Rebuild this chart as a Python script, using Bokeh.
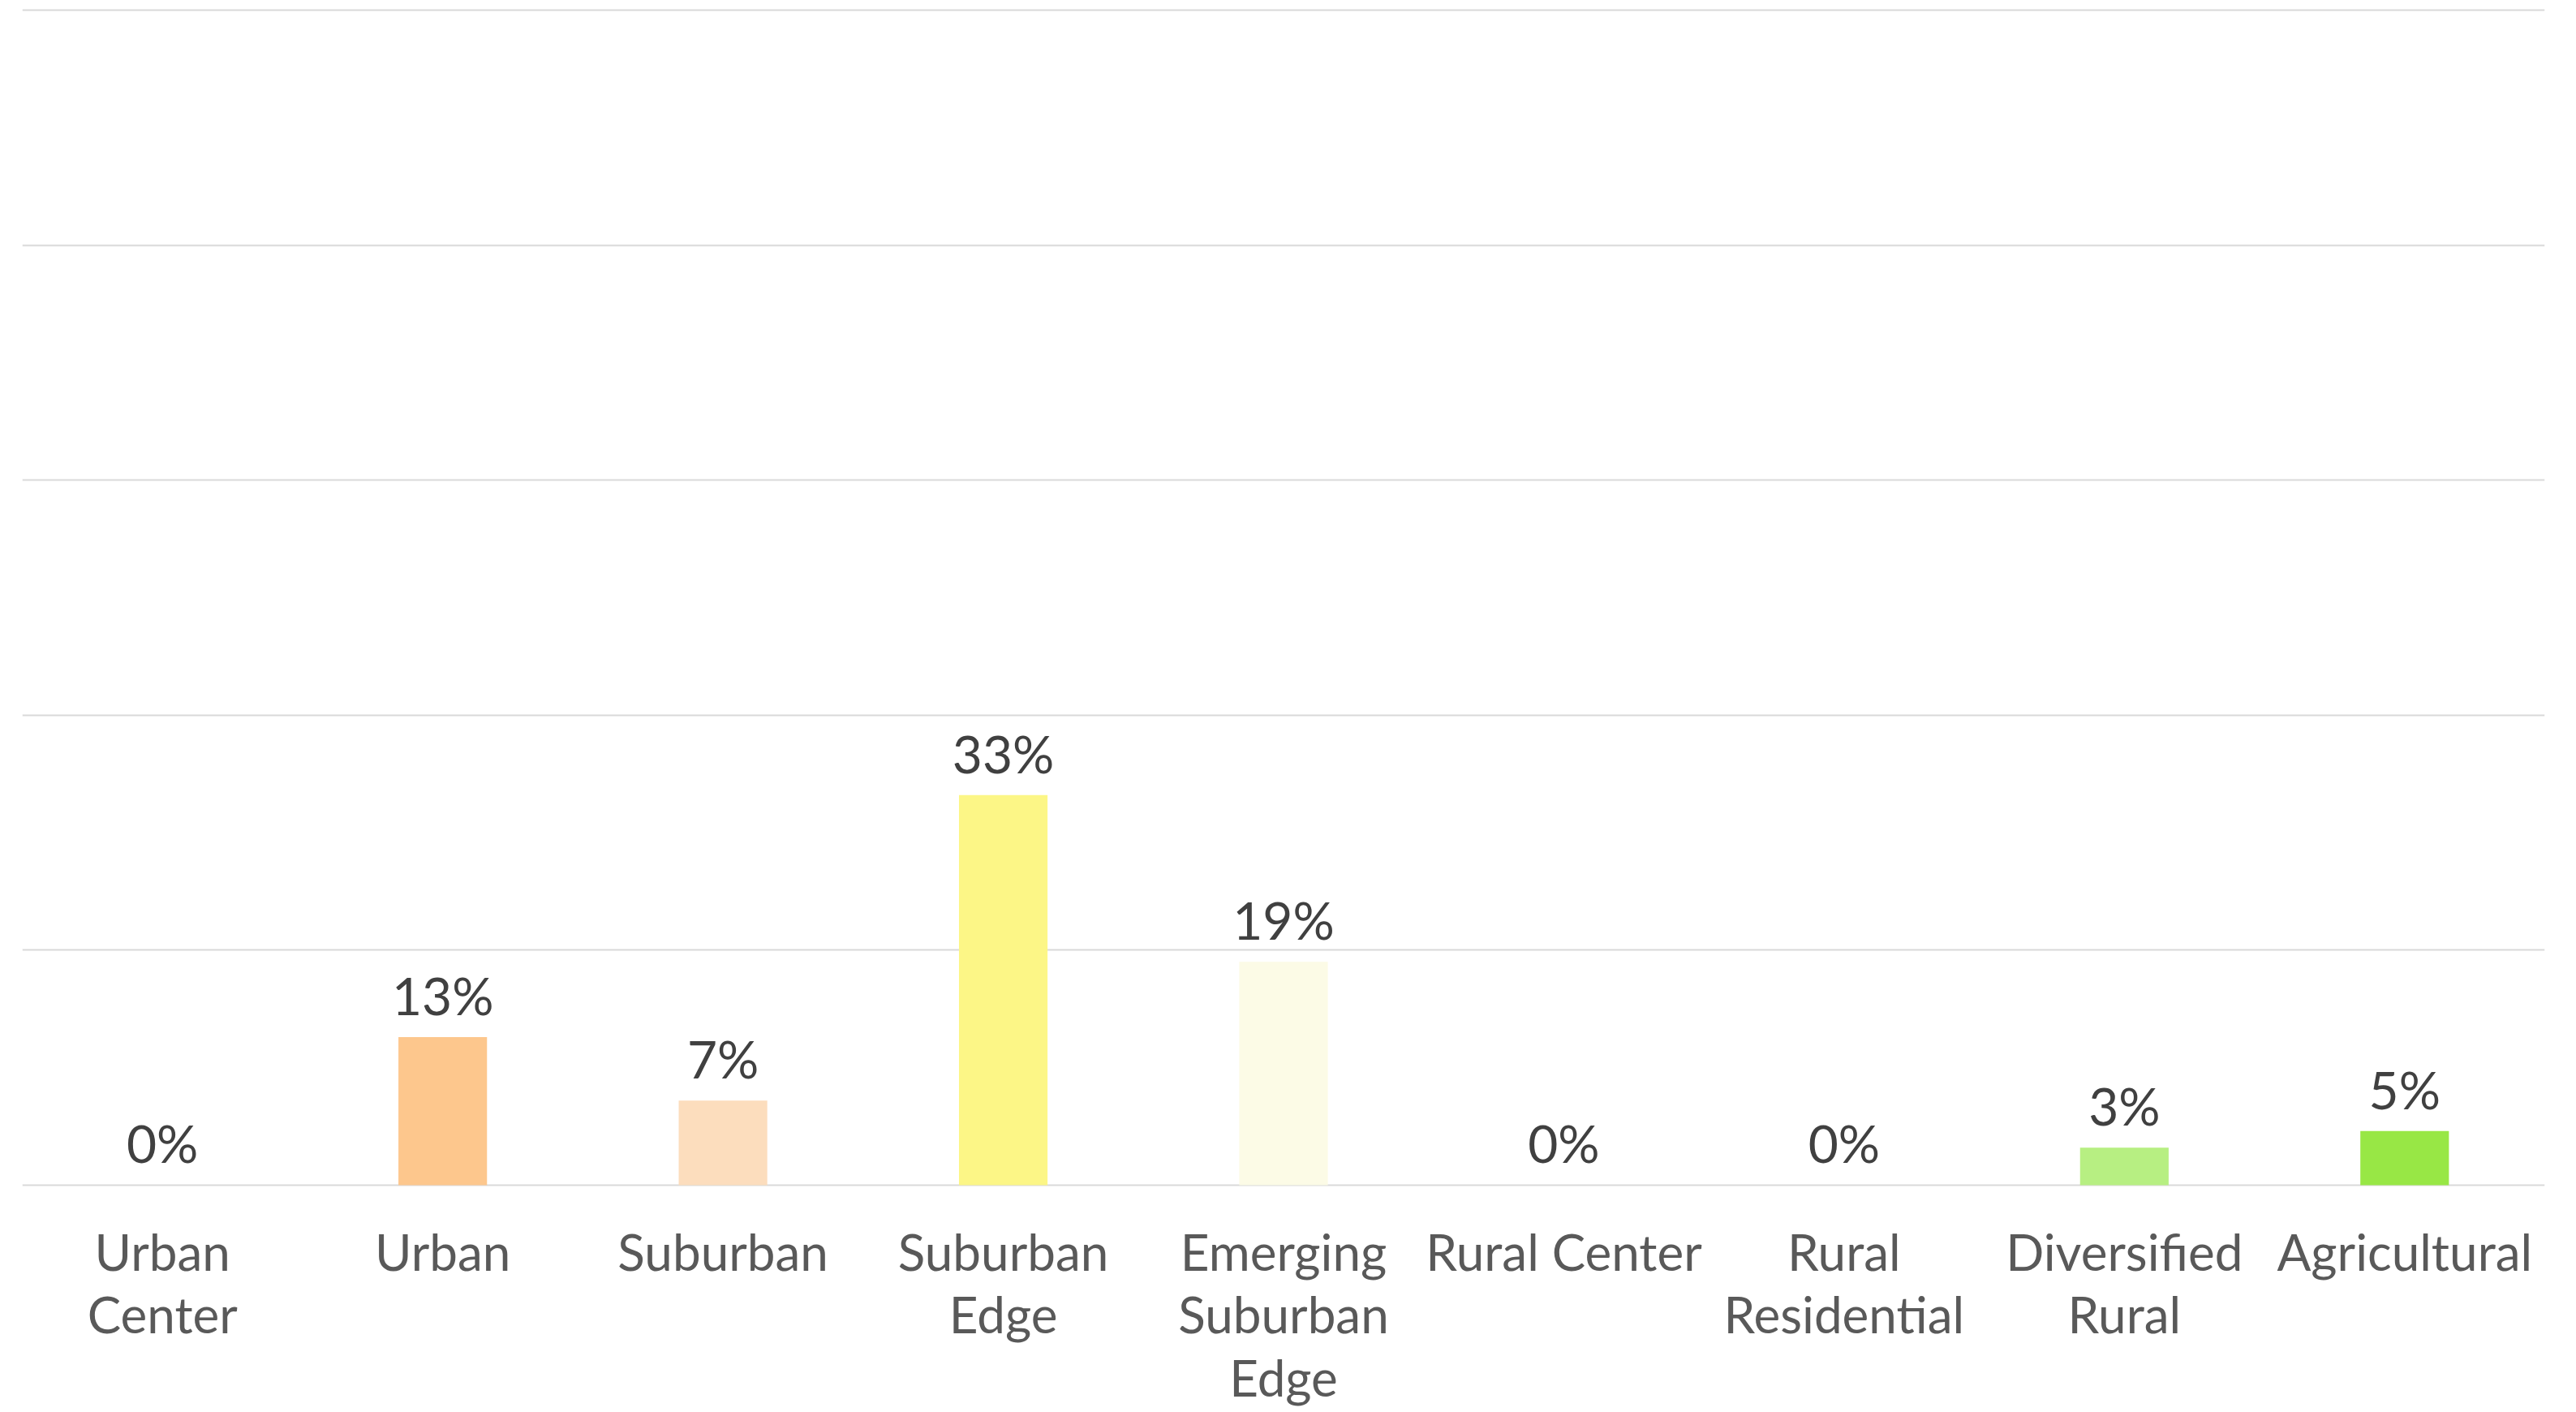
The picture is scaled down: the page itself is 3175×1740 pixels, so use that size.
from bokeh.plotting import figure
from bokeh.models import ColumnDataSource, LabelSet, FactorRange, FixedTicker
from bokeh.core.properties import value
from bokeh.embed import file_html
from bokeh.resources import INLINE

categories = ["Urban\nCenter", "Urban", "Suburban", "Suburban\nEdge",
              "Emerging\nSuburban\nEdge", "Rural Center", "Rural\nResidential",
              "Diversified\nRural", "Agricultural"]
values = [0, 12.6, 7.2, 33.2, 19.0, 0, 0, 3.2, 4.6]
value_labels = ["0%", "13%", "7%", "33%", "19%", "0%", "0%", "3%", "5%"]
colors = ["#FDC78D", "#FDC78D", "#FCDDBD", "#FCF686", "#FCFBE6",
          "#FCFBE6", "#B7EF82", "#B7EF82", "#98E745"]
grid_ticks = [0, 20, 40, 60, 80, 100]

src = ColumnDataSource(dict(cat=categories, val=values, label=value_labels, color=colors))

p = figure(x_range=FactorRange(*categories), y_range=(-0.14, 100.14),
           width=3175, height=1740, output_backend="svg", toolbar_location=None,
           min_border_left=27, min_border_right=39, min_border_top=10, min_border_bottom=278)

p.vbar(x="cat", top="val", width=0.316, fill_color="color", line_color=None, source=src)

labels = LabelSet(x="cat", y="val", text="label", source=src, y_offset=27,
                  text_align="center", text_baseline="alphabetic",
                  text_font=value("Lato"), text_font_size=value("64px"), text_color="#404040")
p.add_layout(labels)

p.outline_line_color = None
p.background_fill_color = "white"
p.border_fill_color = "white"
p.yaxis.visible = False
p.xgrid.grid_line_color = None
p.ygrid.ticker = FixedTicker(ticks=grid_ticks)
p.ygrid.grid_line_color = "#d9d9d9"
p.ygrid.grid_line_width = 2

p.xaxis.axis_line_color = None
p.xaxis.major_tick_line_color = None
p.xaxis.minor_tick_line_color = None
p.xaxis.major_tick_out = 0
p.xaxis.major_tick_in = 0
p.xaxis.major_label_standoff = 42
p.xaxis.major_label_text_font = "Lato"
p.xaxis.major_label_text_font_size = "62px"
p.xaxis.major_label_text_color = "#595959"
p.xaxis.major_label_text_line_height = 1.05

open("out.html", "w").write(file_html(p, INLINE))
